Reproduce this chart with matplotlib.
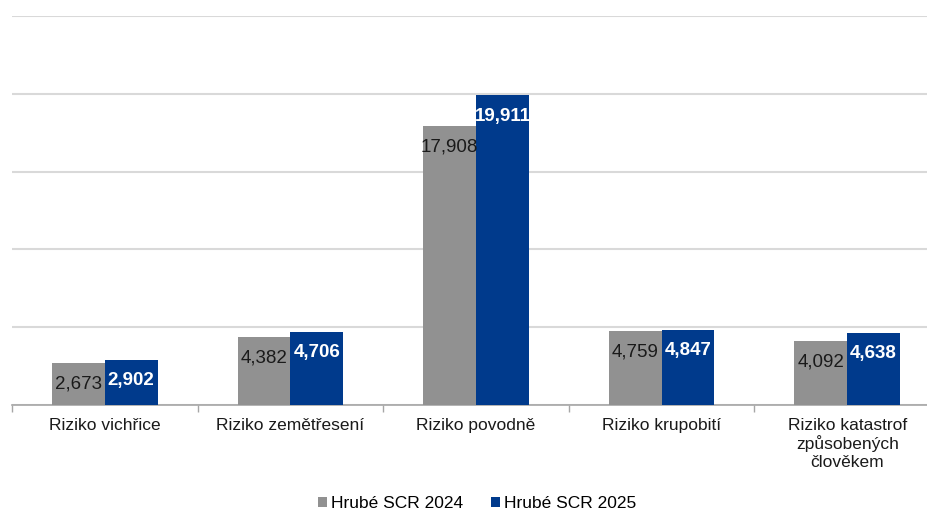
import matplotlib.pyplot as plt
import numpy as np

plt.rcParams['font.family'] = ['Liberation Sans', 'DejaVu Sans']

CATEGORIES = [
    "Riziko vichřice",
    "Riziko zemětřesení",
    "Riziko povodně",
    "Riziko krupobití",
    "Riziko katastrof\nzpůsobených\nčlověkem",
]
SCR_2024 = [2673, 4382, 17908, 4759, 4092]
SCR_2025 = [2902, 4706, 19911, 4847, 4638]
SERIES_NAMES = ["Hrubé SCR 2024", "Hrubé SCR 2025"]

GRAY = "#919191"
BLUE = "#003a8c"

fig = plt.figure(figsize=(9.28, 5.11), dpi=100)
# axes reaches a bit past the right edge, like in the original export
ax = fig.add_axes([12 / 928, 106 / 511, 928 / 928, 389 / 511])

x = np.arange(len(CATEGORIES))
w = 0.285
b1 = ax.bar(x - w / 2, SCR_2024, w, color=GRAY, label=SERIES_NAMES[0], zorder=3)
b2 = ax.bar(x + w / 2, SCR_2025, w, color=BLUE, label=SERIES_NAMES[1], zorder=3)

for rect, v in zip(b1, SCR_2024):
    ax.annotate(f"{v:,}", (rect.get_x() + rect.get_width() / 2, v),
                xytext=(0, -21), textcoords="offset pixels",
                ha="center", va="center", fontsize=13.5, color="#1a1a1a", zorder=4)
for rect, v in zip(b2, SCR_2025):
    ax.annotate(f"{v:,}", (rect.get_x() + rect.get_width() / 2, v),
                xytext=(0, -21), textcoords="offset pixels",
                ha="center", va="center", fontsize=13.5, color="white",
                fontweight="bold", zorder=4)

ax.set_xlim(-0.5, len(CATEGORIES) - 0.5)
ax.set_ylim(0, 25000)
ax.set_yticks(np.arange(0, 25001, 5000))
ax.yaxis.grid(True, color="#d9d9d9", linewidth=1.5, zorder=0)
ax.tick_params(axis="y", left=False, labelleft=False)

ax.set_xticks(x)
ax.set_xticklabels(CATEGORIES, fontsize=12.5, color="#1a1a1a", linespacing=1.2)
ax.tick_params(axis="x", which="major", length=0, pad=9)
ax.set_xticks(np.arange(-0.5, len(CATEGORIES), 1), minor=True)
ax.tick_params(axis="x", which="minor", length=5, color="#a6a6a6", width=1)

for s in ["top", "right", "left"]:
    ax.spines[s].set_visible(False)
ax.spines["bottom"].set_color("#a6a6a6")
ax.spines["bottom"].set_linewidth(1.2)

fig.legend(loc="center", bbox_to_anchor=(0.514, 0.014), ncol=2, frameon=False,
           fontsize=12.5, handlelength=0.55, handleheight=0.55, handletextpad=0.2,
           columnspacing=1.6)

plt.savefig("out.png", dpi=100)
plt.close()
